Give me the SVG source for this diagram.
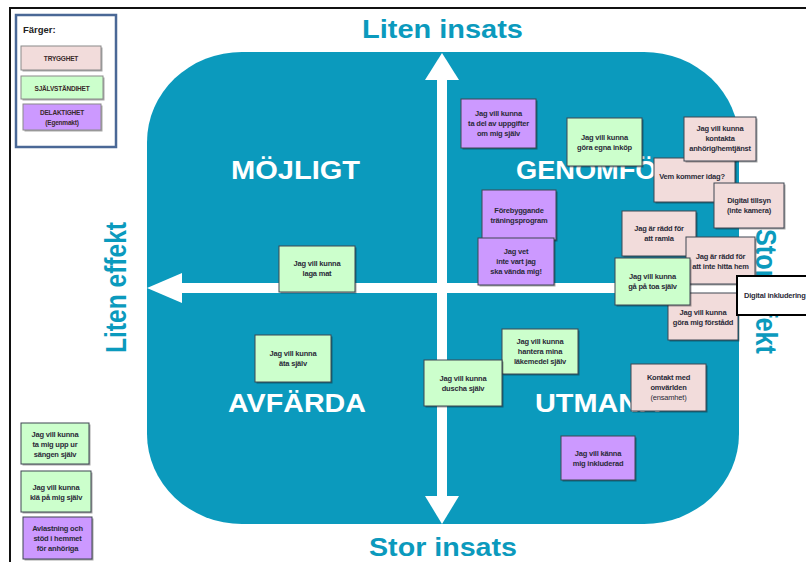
<svg xmlns="http://www.w3.org/2000/svg" width="806" height="562" viewBox="0 0 806 562">
<style>
.n rect.b{stroke:#3f4652;stroke-width:1}
.sh{fill:#000;opacity:.35}
.pk{fill:#f2dcdb}
.gr{fill:#ccffcc}
.pu{fill:#cc99ff}
.t{font-family:"Liberation Sans",Arial,sans-serif;font-weight:bold;font-size:7.5px;letter-spacing:-0.2px;fill:#2a2a38;text-anchor:middle}
.tr{font-weight:normal}
.ttl{font-family:"Liberation Sans",Arial,sans-serif;font-weight:bold;fill:#0b9abd}
.q{font-family:"Liberation Sans",Arial,sans-serif;font-weight:bold;font-size:25px;fill:#ffffff}
.lg{font-family:"Liberation Sans",Arial,sans-serif;font-weight:bold;font-size:6.5px;letter-spacing:-0.2px;fill:#3a2a2a;text-anchor:middle}
</style>
<rect x="0" y="0" width="806" height="562" fill="#ffffff"/>
<path d="M10 562 V8 H806" fill="none" stroke="#111" stroke-width="2"/>

<g id="legend">
<rect x="16" y="15" width="100" height="132" fill="#fff" stroke="#4a6896" stroke-width="2.5"/>
<text x="23" y="33" font-family="Liberation Sans,Arial,sans-serif" font-weight="bold" font-size="9.5" fill="#222">Färger:</text>
<rect class="sh" x="22.5" y="47.5" width="80" height="24"/>
<rect x="21" y="46" width="80" height="24" class="pk" stroke="#8a8a8a"/>
<text class="lg" x="61" y="61">TRYGGHET</text>
<rect class="sh" x="22.5" y="77.5" width="82" height="23"/>
<rect x="21" y="76" width="82" height="23" class="gr" stroke="#8a8a8a"/>
<text class="lg" x="62" y="90.5">SJÄLVSTÄNDIHET</text>
<rect class="sh" x="24.5" y="105.5" width="78" height="26"/>
<rect x="23" y="104" width="78" height="26" class="pu" stroke="#8a8a8a"/>
<text class="lg" x="62" y="115">DELAKTIGHET</text>
<text class="lg" x="62" y="125" font-weight="normal">(Egenmakt)</text>
</g>

<g id="matrix">
<rect x="147" y="52" width="592" height="472" rx="95" ry="90" fill="#0b9abd"/>
</g>

<g id="connectors" fill="#ffffff">
<rect x="437" y="78" width="10" height="420"/>
<polygon points="442,53 425,80 459,80"/>
<polygon points="442,524 425,496 459,496"/>
<rect x="180" y="283" width="556" height="10"/>
<polygon points="147,288 182,273 182,303"/>
</g>

<g id="labels">
<text class="ttl" x="362" y="38" font-size="26" textLength="161" lengthAdjust="spacingAndGlyphs">Liten insats</text>
<text class="ttl" x="369" y="556" font-size="25" textLength="148" lengthAdjust="spacingAndGlyphs">Stor insats</text>
<text class="ttl" transform="translate(126 353) rotate(-90)" font-size="30" textLength="131" lengthAdjust="spacingAndGlyphs">Liten effekt</text>
<text class="ttl" transform="translate(756 229) rotate(90)" font-size="29" textLength="125" lengthAdjust="spacingAndGlyphs">Stor effekt</text>
<text class="q" x="231" y="179" textLength="129" lengthAdjust="spacingAndGlyphs">MÖJLIGT</text>
<text class="q" x="516" y="179" textLength="160" lengthAdjust="spacingAndGlyphs">GENOMFÖR</text>
<text class="q" x="228" y="412" textLength="138" lengthAdjust="spacingAndGlyphs">AVFÄRDA</text>
<text class="q" x="535" y="412" textLength="125" lengthAdjust="spacingAndGlyphs">UTMANA</text>
</g>

<g id="n-tadel" class="n"><rect class="sh" x="462.5" y="100.5" width="75" height="49"/><rect class="b pu" x="461" y="99" width="75" height="49"/><text class="t" x="498.5" y="116">Jag vill kunna</text><text class="t" x="498.5" y="126">ta del av uppgifter</text><text class="t" x="498.5" y="136">om mig själv</text></g>
<g id="n-inkop" class="n"><rect class="sh" x="568.5" y="119.5" width="75" height="48"/><rect class="b gr" x="567" y="118" width="75" height="48"/><text class="t" x="604.5" y="140">Jag vill kunna</text><text class="t" x="604.5" y="150">göra egna inköp</text></g>
<g id="n-forebygg" class="n"><rect class="sh" x="483.5" y="191.5" width="74" height="50"/><rect class="b pu" x="482" y="190" width="74" height="50"/><text class="t" x="519" y="213">Förebyggande</text><text class="t" x="519" y="223">träningsprogram</text></g>
<g id="n-jagvet" class="n"><rect class="sh" x="479.5" y="239.5" width="76" height="47"/><rect class="b pu" x="478" y="238" width="76" height="47"/><text class="t" x="516" y="254">Jag vet</text><text class="t" x="516" y="264">inte vart jag</text><text class="t" x="516" y="274">ska vända mig!</text></g>
<g id="n-vem" class="n"><rect class="sh" x="655.5" y="159.5" width="81" height="44"/><rect class="b pk" x="654" y="158" width="81" height="44"/><text class="t" x="692" y="179">Vem kommer idag?</text></g>
<g id="n-kontakta" class="n"><rect class="sh" x="685.5" y="118.5" width="72" height="44"/><rect class="b pk" x="684" y="117" width="72" height="44"/><text class="t" x="720" y="131">Jag vill kunna</text><text class="t" x="720" y="141">kontakta</text><text class="t" x="720" y="151">anhörig/hemtjänst</text></g>
<g id="n-tillsyn" class="n"><rect class="sh" x="715.5" y="184.5" width="70" height="45"/><rect class="b pk" x="714" y="183" width="70" height="45"/><text class="t" x="749" y="203">Digital tillsyn</text><text class="t" x="749" y="213">(inte kamera)</text></g>
<g id="n-ramla" class="n"><rect class="sh" x="623.5" y="212.5" width="74" height="45"/><rect class="b pk" x="622" y="211" width="74" height="45"/><text class="t" x="659" y="231">Jag är rädd för</text><text class="t" x="659" y="241">att ramla</text></g>
<g id="n-hittahem" class="n"><rect class="sh" x="687.5" y="238.5" width="69" height="47"/><rect class="b pk" x="686" y="237" width="69" height="47"/><text class="t" x="720.5" y="259">Jag är rädd för</text><text class="t" x="720.5" y="269">att inte hitta hem</text></g>
<g id="n-forstadd" class="n"><rect class="sh" x="669.5" y="294.5" width="70" height="47"/><rect class="b pk" x="668" y="293" width="70" height="47"/><text class="t" x="703" y="315">Jag vill kunna</text><text class="t" x="703" y="325">göra mig förstådd</text></g>
<g id="n-toa" class="n"><rect class="sh" x="616.5" y="259.5" width="75" height="47"/><rect class="b gr" x="615" y="258" width="75" height="47"/><text class="t" x="652.5" y="279">Jag vill kunna</text><text class="t" x="652.5" y="289">gå på toa själv</text></g>
<g id="n-diginkl"><rect x="737" y="276" width="75" height="39" fill="#ffffff" stroke="#000" stroke-width="2"/><text class="t" x="744" y="298" style="text-anchor:start">Digital inkludering</text></g>
<g id="n-lagamat" class="n"><rect class="sh" x="280.5" y="247.5" width="76" height="46"/><rect class="b gr" x="279" y="246" width="76" height="46"/><text class="t" x="317" y="266">Jag vill kunna</text><text class="t" x="317" y="276">laga mat</text></g>
<g id="n-ata" class="n"><rect class="sh" x="256.5" y="336.5" width="76" height="47"/><rect class="b gr" x="255" y="335" width="76" height="47"/><text class="t" x="293" y="356">Jag vill kunna</text><text class="t" x="293" y="366">äta själv</text></g>
<g id="n-hantera" class="n"><rect class="sh" x="503.5" y="330.5" width="76" height="45"/><rect class="b gr" x="502" y="329" width="76" height="45"/><text class="t" x="540" y="344">Jag vill kunna</text><text class="t" x="540" y="354">hantera mina</text><text class="t" x="540" y="364">läkemedel själv</text></g>
<g id="n-duscha" class="n"><rect class="sh" x="425.5" y="361.5" width="78" height="46"/><rect class="b gr" x="424" y="360" width="78" height="46"/><text class="t" x="463" y="381">Jag vill kunna</text><text class="t" x="463" y="391">duscha själv</text></g>
<g id="n-kontaktmed" class="n"><rect class="sh" x="632.5" y="365.5" width="75" height="47"/><rect class="b pk" x="631" y="364" width="75" height="47"/><text class="t" x="668.5" y="380">Kontakt med</text><text class="t" x="668.5" y="390">omvärlden</text><text class="t tr" x="668.5" y="400">(ensamhet)</text></g>
<g id="n-kanna" class="n"><rect class="sh" x="562.5" y="437.5" width="74" height="44"/><rect class="b pu" x="561" y="436" width="74" height="44"/><text class="t" x="598" y="456">Jag vill känna</text><text class="t" x="598" y="466">mig inkluderad</text></g>
<g id="n-sangen" class="n"><rect class="sh" x="22.5" y="424.5" width="68" height="41"/><rect class="b gr" x="21" y="423" width="68" height="41"/><text class="t" x="55" y="437">Jag vill kunna</text><text class="t" x="55" y="447">ta mig upp ur</text><text class="t" x="55" y="457">sängen själv</text></g>
<g id="n-kla" class="n"><rect class="sh" x="22.5" y="472.5" width="70" height="41"/><rect class="b gr" x="21" y="471" width="70" height="41"/><text class="t" x="56" y="490">Jag vill kunna</text><text class="t" x="56" y="500">klä på mig själv</text></g>
<g id="n-avlastning" class="n"><rect class="sh" x="24.5" y="518.5" width="69" height="42"/><rect class="b pu" x="23" y="517" width="69" height="42"/><text class="t" x="57.5" y="531">Avlastning och</text><text class="t" x="57.5" y="541">stöd i hemmet</text><text class="t" x="57.5" y="551">för anhöriga</text></g>
</svg>
